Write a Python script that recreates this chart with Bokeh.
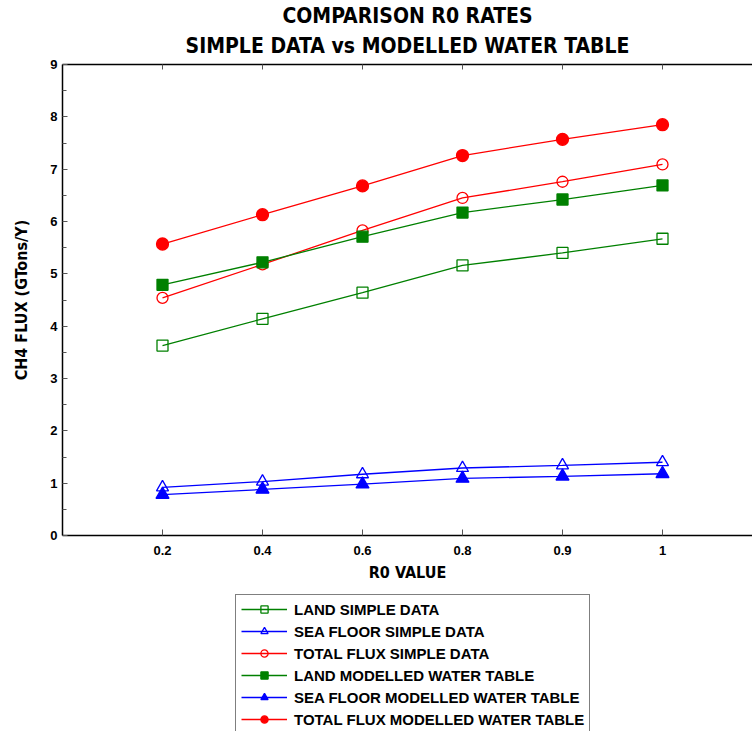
from bokeh.plotting import figure
from bokeh.layouts import column
from bokeh.models import Range1d, FixedTicker, LinearAxis, Legend, Title
from bokeh.embed import file_html
from bokeh.resources import INLINE

r0_labels = ["0.2", "0.4", "0.6", "0.8", "0.9", "1"]
land_simple = [3.63, 4.14, 4.64, 5.16, 5.40, 5.67]
sea_simple = [0.92, 1.03, 1.17, 1.29, 1.34, 1.40]
total_simple = [4.54, 5.18, 5.83, 6.45, 6.76, 7.09]
land_model = [4.79, 5.22, 5.71, 6.17, 6.42, 6.69]
sea_model = [0.78, 0.88, 0.98, 1.09, 1.13, 1.18]
total_model = [5.57, 6.13, 6.68, 7.26, 7.57, 7.85]
y_ticks = list(range(0, 10))
title_lines = ["COMPARISON R0 RATES", "SIMPLE DATA vs MODELLED WATER TABLE"]

x = list(range(1, len(r0_labels) + 1))

NARROW = "DejaVu Sans Condensed"
ARIAL = "Liberation Sans"
GREEN = "#008000"
BLUE = "#0000FF"
RED = "#FF0000"

series = [
    ("LAND SIMPLE DATA", land_simple, GREEN, "square", False, 11),
    ("SEA FLOOR SIMPLE DATA", sea_simple, BLUE, "triangle", False, 12),
    ("TOTAL FLUX SIMPLE DATA", total_simple, RED, "circle", False, 11),
    ("LAND MODELLED WATER TABLE", land_model, GREEN, "square", True, 11),
    ("SEA FLOOR MODELLED WATER TABLE", sea_model, BLUE, "triangle", True, 13),
    ("TOTAL FLUX MODELLED WATER TABLE", total_model, RED, "circle", True, 12),
]

p = figure(width=752, height=590, output_backend="svg", toolbar_location=None,
           x_range=Range1d(0, 6.90), y_range=Range1d(0, 9),
           x_axis_location=None, y_axis_location=None,
           min_border_left=62, min_border_right=0, min_border_top=64, min_border_bottom=55)
p.grid.visible = False
p.outline_line_color = None
p.background_fill_color = "white"
p.border_fill_color = "white"

def style_axis(ax):
    ax.axis_line_color = "black"
    ax.axis_line_width = 1.5
    ax.major_tick_line_color = "#555555"
    ax.minor_tick_line_color = "#555555"
    ax.major_label_text_font = ARIAL
    ax.major_label_text_font_style = "bold"
    ax.major_label_text_font_size = "13px"
    ax.major_label_text_color = "black"
    ax.axis_label_text_font = NARROW
    ax.axis_label_text_font_style = "bold"
    ax.axis_label_text_font_size = "16px"
    ax.axis_label_text_color = "black"

xax = LinearAxis(ticker=FixedTicker(ticks=x),
                 major_label_overrides={xi: lab for xi, lab in zip(x, r0_labels)},
                 axis_label="R0 VALUE")
style_axis(xax)
xax.major_tick_in = 6
xax.major_tick_out = 0
xax.minor_tick_in = 0
xax.minor_tick_out = 0
xax.major_label_standoff = 10
xax.axis_label_standoff = 5
p.add_layout(xax, "below")

yax = LinearAxis(ticker=FixedTicker(ticks=y_ticks, minor_ticks=[v + 0.5 for v in y_ticks[:-1]]),
                 axis_label="CH4 FLUX (GTons/Y)")
style_axis(yax)
yax.major_tick_in = 5
yax.major_tick_out = 0
yax.minor_tick_in = 4
yax.minor_tick_out = 0
yax.major_label_standoff = 5
yax.axis_label_standoff = 16
p.add_layout(yax, "left")

tax = LinearAxis(ticker=FixedTicker(ticks=x))
style_axis(tax)
tax.major_label_text_font_size = "1px"
tax.major_label_text_color = None
tax.major_tick_in = 5
tax.major_tick_out = 0
tax.minor_tick_in = 0
tax.minor_tick_out = 0
tax.major_label_standoff = 0
p.add_layout(tax, "above")

def style_title(t, standoff):
    t.align = "center"
    t.text_font = NARROW
    t.text_font_style = "bold"
    t.text_font_size = "21px"
    t.text_color = "black"
    t.standoff = standoff
    t.offset = 0

sub = Title(text=title_lines[1])
style_title(sub, 14)
p.add_layout(sub, "above")
p.title.text = title_lines[0]
style_title(p.title, -6)

for name, vals, col, mk, filled, sz in series:
    p.line(x, vals, line_color=col, line_width=1.3)
    p.scatter(x, vals, marker=mk, size=sz, line_color=col, line_width=1.3,
              fill_color=col if filled else None)

# legend panel: a second figure whose ranges keep its sample glyphs out of view
lf = figure(width=752, height=141, output_backend="svg", toolbar_location=None,
            x_range=Range1d(100, 101), y_range=Range1d(100, 101),
            x_axis_location=None, y_axis_location=None,
            min_border_left=0, min_border_right=0, min_border_top=0, min_border_bottom=0)
lf.grid.visible = False
lf.outline_line_color = None
lf.background_fill_color = "white"
lf.border_fill_color = "white"

items = []
for name, vals, col, mk, filled, sz in series:
    r1 = lf.line(x, vals, line_color=col, line_width=1.3)
    r2 = lf.scatter(x, vals, marker=mk, size=sz, line_color=col, line_width=1.3,
                    fill_color=col if filled else None)
    items.append((name, [r1, r2]))

legend = Legend(items=items, location=(173, -3), orientation="vertical")
legend.border_line_color = "black"
legend.border_line_width = 1
legend.label_text_font = ARIAL
legend.label_text_font_style = "bold"
legend.label_text_font_size = "15px"
legend.label_text_color = "black"
legend.glyph_width = 46
legend.glyph_height = 18
legend.label_height = 18
legend.spacing = 4
legend.padding = 5
legend.margin = 0
legend.label_standoff = 7
legend.background_fill_alpha = 1
lf.add_layout(legend, "center")

layout = column(p, lf, spacing=0)
open("out.html", "w").write(file_html(layout, INLINE))
